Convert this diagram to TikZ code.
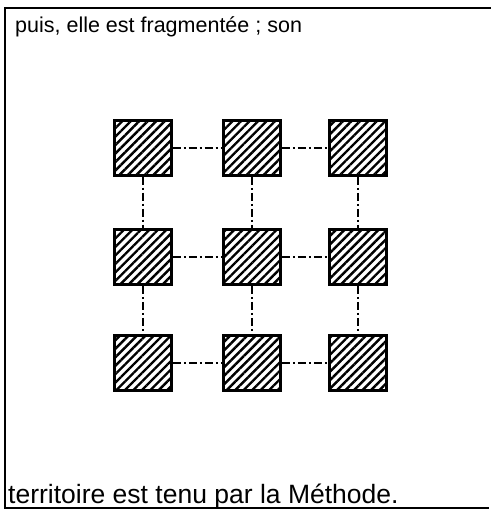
\documentclass[tikz,border=0pt]{standalone}
\usepackage{fontspec}
\setmainfont{Liberation Sans}
\usetikzlibrary{patterns.meta}
\tikzset{
  block/.style={draw=black, line width=2.5pt, minimum width=57pt, minimum height=55pt, inner sep=0pt,
    pattern={Lines[angle=45, distance=6pt, line width=2.4pt]}, pattern color=black},
  link/.style={line width=1.2pt, dash pattern=on 8pt off 3pt on 2pt off 3pt},
  frameline/.style={line width=2pt, line cap=rect},
  caption/.style={anchor=base west, inner sep=0pt}
}
\begin{document}
\begin{tikzpicture}[x=1pt,y=-1pt]
\useasboundingbox (0,0) rectangle (492,515);
\coordinate (tl) at (5,8);
\coordinate (tr) at (490,8);
\coordinate (bl) at (5,508);
\coordinate (br) at (488,508);
\draw[frameline] (tr) -- (tl) -- (bl) -- (br);
\node[caption, font=\fontsize{21.5}{26}\selectfont] (top) at (15,32) {puis, elle est fragmentée ; son};
\node[caption, font=\fontsize{26.5}{30}\selectfont] (bot) at (8,503) {territoire est tenu par la Méthode.};
\foreach \r/\y in {1/148,2/257,3/363}{
  \foreach \c/\x in {1/143,2/252,3/358}{
    \node[block] (b\r\c) at (\x,\y) {};
  }
}
\foreach \r in {1,2,3}{
  \draw[link] (b\r1) -- (b\r2);
  \draw[link] (b\r2) -- (b\r3);
}
\foreach \c in {1,2,3}{
  \draw[link] (b1\c) -- (b2\c);
  \draw[link] (b2\c) -- (b3\c);
}
\end{tikzpicture}
\end{document}
